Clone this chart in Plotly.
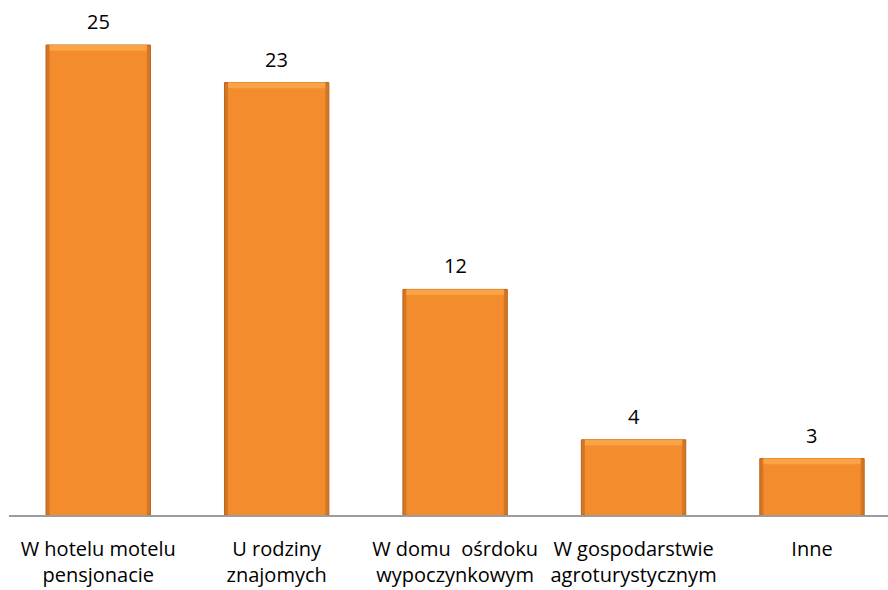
import plotly.graph_objects as go

categories = [
    "W hotelu motelu<br>pensjonacie",
    "U rodziny<br>znajomych",
    "W domu  ośrdoku<br>wypoczynkowym",
    "W gospodarstwie<br>agroturystycznym",
    "Inne",
]
values = [25, 23, 12, 4, 3]

FONT = "'Open Sans', Lato, sans-serif"

fig = go.Figure()

# darker outer body gives the shaded side edges
fig.add_trace(go.Bar(
    x=categories, y=values, width=0.585,
    marker=dict(color="#D57624", line=dict(color="#B9621C", width=1)),
    hoverinfo="skip", showlegend=False,
))
# brighter inner face
fig.add_trace(go.Bar(
    x=categories, y=values, width=0.545,
    marker=dict(color="#F38C2D", line=dict(width=0)),
    hoverinfo="skip", showlegend=False,
))
# light bevel along the top of each bar
fig.add_trace(go.Bar(
    x=categories, y=[0.3] * len(values), base=[v - 0.3 for v in values],
    width=0.545,
    marker=dict(color="#FBA445", line=dict(width=0)),
    hoverinfo="skip", showlegend=False,
))

for cat, val in zip(categories, values):
    fig.add_annotation(
        x=cat, y=val, text=str(val), showarrow=False,
        yanchor="bottom", yshift=8,
        font=dict(family=FONT, size=20, color="#000000"),
    )

fig.update_layout(
    width=888, height=590,
    margin=dict(l=9, r=0, t=0, b=75, autoexpand=False),
    paper_bgcolor="white", plot_bgcolor="white",
    barmode="overlay",
    xaxis=dict(
        range=[-0.5, 4.426], automargin=False,
        showline=True, linecolor="#9C9C9C", linewidth=1.5,
        showgrid=False, ticks="", ticklabelstandoff=15,
        tickfont=dict(family=FONT, size=20, color="#000000"),
    ),
    yaxis=dict(range=[0, 515 / 18.8], visible=False, showgrid=False,
               automargin=False),
)

fig.write_html("out.html")
